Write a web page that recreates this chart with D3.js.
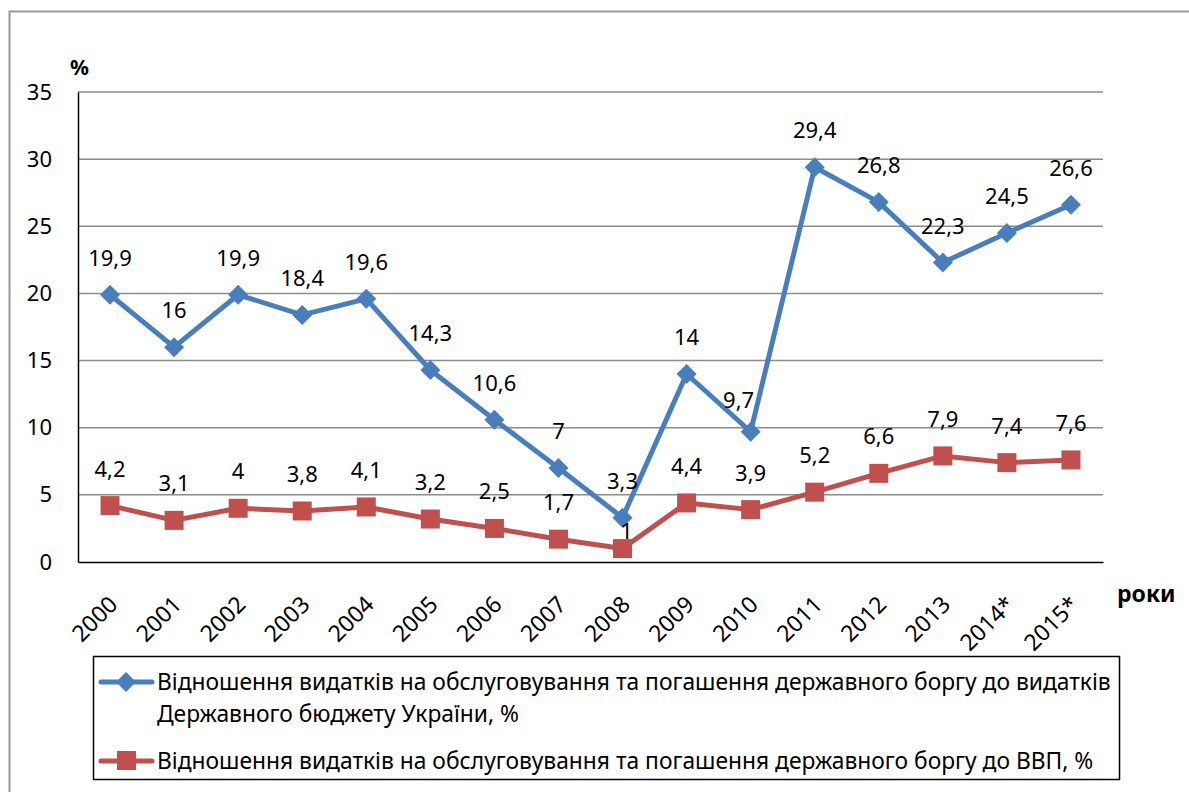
<!DOCTYPE html>
<meta charset="utf-8">
<style>
  body { margin: 0; background: #fff; }
  text { font-family: "Noto Sans", "DejaVu Sans", sans-serif; fill: #000; }
</style>
<script src="https://cdn.jsdelivr.net/npm/d3@7"></script>
<div id="chart"></div>
<script>

// data
var years = ["2000","2001","2002","2003","2004","2005","2006","2007","2008","2009","2010","2011","2012","2013","2014*","2015*"];
var budgetShare = [19.9, 16, 19.9, 18.4, 19.6, 14.3, 10.6, 7, 3.3, 14, 9.7, 29.4, 26.8, 22.3, 24.5, 26.6];
var gdpShare = [4.2, 3.1, 4, 3.8, 4.1, 3.2, 2.5, 1.7, 1, 4.4, 3.9, 5.2, 6.6, 7.9, 7.4, 7.6];
var yTicks = [0, 5, 10, 15, 20, 25, 30, 35];
var legendBudget = ["Відношення видатків на обслуговування та погашення державного боргу до видатків",
                    "Державного бюджету України, %"];
var legendGdp = "Відношення видатків на обслуговування та погашення державного боргу до ВВП, %";

var W = 1189, H = 792;
var plot = {left: 78, right: 1103, top: 92, bottom: 562};

var svg = d3.select("#chart").append("svg")
  .attr("width", W).attr("height", H);

// outer frame
svg.append("rect")
  .attr("x", 9.5).attr("y", 11.5)
  .attr("width", 1200).attr("height", 800)
  .attr("fill", "none").attr("stroke", "#9a9a9a").attr("stroke-width", 2);

var x = d3.scaleBand().domain(years).range([plot.left, plot.right]);
var y = d3.scaleLinear().domain([0, 35]).range([plot.bottom, plot.top]);
function cx(d, i) { return x(years[i]) + x.bandwidth() / 2; }

// gridlines
svg.append("g").selectAll("line")
  .data(yTicks.filter(function(t) { return t > 0; }))
  .enter().append("line")
    .attr("x1", plot.left).attr("x2", plot.right)
    .attr("y1", function(d) { return y(d); })
    .attr("y2", function(d) { return y(d); })
    .attr("stroke", "#8c8c8c").attr("stroke-width", 1.5);

// y axis
var yAxis = svg.append("g")
  .attr("transform", "translate(" + plot.left + ",0)")
  .call(d3.axisLeft(y).tickValues(yTicks).tickSize(0).tickPadding(26));
yAxis.select(".domain").attr("stroke", "#000").attr("stroke-width", 1.5);
yAxis.selectAll("text").style("font-size", "22px").attr("font-family", null);

// x axis
var xAxis = svg.append("g")
  .attr("transform", "translate(0," + plot.bottom + ")")
  .call(d3.axisBottom(x).tickSize(0).tickFormat(function(d) { return d; }));
xAxis.select(".domain").attr("stroke", "#000").attr("stroke-width", 1.5);
xAxis.selectAll("text")
  .attr("font-family", null)
  .style("font-size", "23px")
  .attr("text-anchor", "end")
  .attr("dy", null)
  .attr("y", 0)
  .attr("transform", "translate(9,44) rotate(-45)");

svg.append("text").attr("x", 70).attr("y", 75)
  .style("font-size", "21px").style("font-weight", "bold").text("%");
svg.append("text").attr("x", 1117).attr("y", 602)
  .style("font-size", "23px").style("font-weight", "bold").text("роки");

var line = d3.line()
  .x(function(d, i) { return cx(d, i); })
  .y(function(d) { return y(d); });

var blue = "#4A7EBB", red = "#C0504D";

// series lines
svg.append("path").datum(gdpShare)
  .attr("d", line).attr("fill", "none")
  .attr("stroke", red).attr("stroke-width", 5).attr("stroke-linejoin", "round");
svg.append("path").datum(budgetShare)
  .attr("d", line).attr("fill", "none")
  .attr("stroke", blue).attr("stroke-width", 5).attr("stroke-linejoin", "round");

// markers
svg.append("g").selectAll("rect")
  .data(gdpShare).enter().append("rect")
    .attr("x", function(d, i) { return cx(d, i) - 9.5; })
    .attr("y", function(d) { return y(d) - 9.5; })
    .attr("width", 19).attr("height", 19)
    .attr("fill", red);
svg.append("g").selectAll("path")
  .data(budgetShare).enter().append("path")
    .attr("d", "M0,-10L10,0L0,10L-10,0Z")
    .attr("transform", function(d, i) { return "translate(" + cx(d, i) + "," + y(d) + ")"; })
    .attr("fill", blue);

// data labels (a couple nudged like in the original)
function fmt(v) { return String(v).replace(".", ","); }
var nudgeBudget = {10: [-12, 5]};
var nudgeGdp = {8: [4, 19]};

function labels(data, nudge) {
  svg.append("g").selectAll("text")
    .data(data).enter().append("text")
      .attr("text-anchor", "middle")
      .style("font-size", "22px")
      .attr("x", function(d, i) { return cx(d, i) + (nudge[i] ? nudge[i][0] : 0); })
      .attr("y", function(d, i) { return y(d) - 29 + (nudge[i] ? nudge[i][1] : 0); })
      .text(fmt);
}
labels(budgetShare, nudgeBudget);
labels(gdpShare, nudgeGdp);

// legend
var leg = svg.append("g");
leg.append("rect")
  .attr("x", 93.5).attr("y", 656.5).attr("width", 1026).attr("height", 123)
  .attr("fill", "#fff").attr("stroke", "#000").attr("stroke-width", 1.5);

leg.append("line").attr("x1", 101).attr("x2", 152).attr("y1", 682).attr("y2", 682)
  .attr("stroke", blue).attr("stroke-width", 5).attr("stroke-linecap", "round");
leg.append("path").attr("d", "M0,-10L10,0L0,10L-10,0Z")
  .attr("transform", "translate(126,682)").attr("fill", blue);
leg.append("text").attr("x", 157).attr("y", 690)
  .style("font-size", "22.8px")
  .selectAll("tspan").data(legendBudget).enter().append("tspan")
    .attr("x", 157).attr("dy", function(d, i) { return i ? 32 : 0; })
    .text(function(d) { return d; });

leg.append("line").attr("x1", 101).attr("x2", 152).attr("y1", 761).attr("y2", 761)
  .attr("stroke", red).attr("stroke-width", 5).attr("stroke-linecap", "round");
leg.append("rect").attr("x", 117).attr("y", 751).attr("width", 19).attr("height", 19)
  .attr("fill", red);
leg.append("text").attr("x", 157).attr("y", 769)
  .style("font-size", "22.8px").text(legendGdp);

</script>
